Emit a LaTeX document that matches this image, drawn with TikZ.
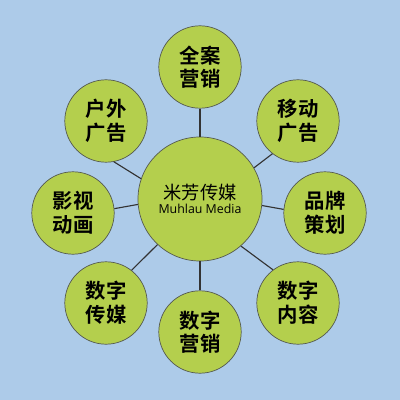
\documentclass[tikz,border=0pt]{standalone}
\usepackage{fontspec}
\setmainfont{Open Sans}
\newfontfamily\cjk[BoldFont=Noto Sans CJK SC Bold]{Noto Sans CJK SC}
\definecolor{skyback}{RGB}{173,203,233}
\definecolor{leaf}{RGB}{180,207,77}
\definecolor{rim}{RGB}{85,90,80}
\tikzset{
  hub/.style={circle,draw=rim,line width=0.5pt,fill=leaf,minimum size=3.1cm,inner sep=0pt,align=center},
  topic/.style={circle,draw=rim,line width=0.5pt,fill=leaf,minimum size=2.06cm,inner sep=0pt,align=center,
    font=\cjk\bfseries\fontsize{14.5}{16.8}\selectfont},
  link/.style={draw=black!80,line width=0.8pt}
}
\begin{document}
\begin{tikzpicture}[x=0.025cm,y=-0.025cm]
% Background
\fill[skyback] (0,0) rectangle (400,400);
% Center
\node[hub] (hub) at (200,199) {{\cjk\fontsize{13}{14}\selectfont 米芳传媒}\\[-2pt]{\fontsize{8.8}{10}\selectfont Muhlau Media}};
% Topics around
\foreach \n/\x/\y/\t in {all/200/67/{全案\\营销},mobile/298/121/{移动\\广告},outdoor/106/121/{户外\\广告},
    film/73/213/{影视\\动画},brand/325/213/{品牌\\策划},dmedia/106/303/{数字\\传媒},
    dmarket/200/332/{数字\\营销},dcontent/298/303/{数字\\内容}}
    \node[topic] (\n) at (\x,\y) {\t};
% Links to center
\foreach \a/\b in {all.south/hub.north,mobile.232/hub.30,outdoor.281/hub.161,film.6/hub.185,
    brand.175/hub.-6,dmedia.52/hub.227,dmarket.north/hub.south,dcontent.127/hub.-49}
    \draw[link] (\a) -- (\b);
\end{tikzpicture}
\end{document}
